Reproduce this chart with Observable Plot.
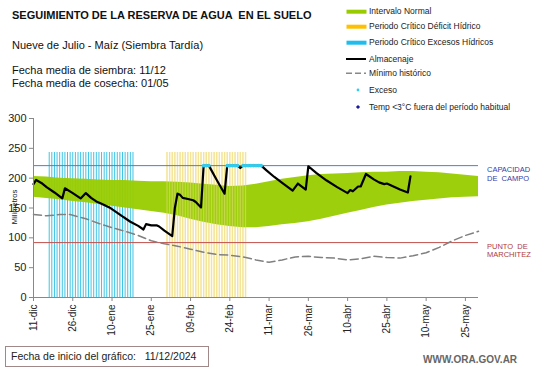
<!DOCTYPE html>
<html><head><meta charset="utf-8">
<script src="https://cdn.jsdelivr.net/npm/d3@7"></script>
<script src="https://cdn.jsdelivr.net/npm/@observablehq/plot@0.6"></script>
<style>
body{margin:0;background:#fff;font-family:"Liberation Sans",Arial,sans-serif;}
#wrap{position:relative;width:541px;height:368px;overflow:hidden;background:#fff;}
#wrap svg{position:absolute;left:0;top:0;}
.t{position:absolute;white-space:nowrap;line-height:1;color:#111;}
.lg{position:absolute;white-space:nowrap;line-height:1;font-size:8.5px;color:#222;}
</style></head><body><div id="wrap"></div>
<script>
// ---- data (days counted from 11/12/2024) ----
const startDate = "2024-12-11";
const xTickDays = [0,15,30,45,60,75,90,105,120,135,150,165];
const xTickLabels = ["11-dic","26-dic","10-ene","25-ene","09-feb","24-feb","11-mar","26-mar","10-abr","25-abr","10-may","25-may"];
const yTicks = [0,50,100,150,200,250,300];

const bandDays  = [0,5,10,15,20,25,30,35,40,45,50,55,60,65,70,75,80,85,90,95,100,105,110,115,120,125,130,135,140,145,150,155,160,165,170];
const bandUpper = [203,202,200,199,198,197,196,196,195,194,194,193,192,190,188,186,187,190,194,198,201,204,206,207,208,209,210,210,211,211,210,209,207,205,203];
const bandLower = [168,166,164,161,159,156,153,150,147,144,141,137,131,126,122,119,117,117,119,122,124,127,131,136,141,146,151,155,158,161,163,165,167,168,169];

const minDays   = [0,5,10,14,20,25,30,35,40,45,50,55,60,65,70,75,80,85,90,95,100,105,110,115,120,125,130,135,140,145,150,155,160,165,170];
const minValues = [139,137,139,139,132,124,117,111,104,95,90,86,81,76,72,71,68,63,59,63,68,69,67,66,63,65,69,67,66,70,75,84,95,104,111];

const almDays   = [0,1,3,5,8,11,12,15,18,20,22,24,26,29,33,37,40,42,43,45,47,48,50,53,54,55,56,57,59,61,62,64,65,67,70,73,74,78,79,80,87,89,92,95,99,101,104,105,108,112,116,120,121,122,124,125,127,130,132,134,135,140,143,144];
const almValues = [190,197,192,185,176,166,183,175,166,175,167,161,157,151,139,127,120,114,123,121,121,119,112,103,150,174,172,167,165,163,160,151,221,221,197,174,221,221,217,221,221,213,202,192,179,191,181,220,209,196,185,175,180,178,186,186,207,198,193,190,191,181,176,203];

const excesoDays  = [65,66,67,74,75,76,77,78,80,81,82,83,84,85,86,87];
const excesoValue = 221;

const periodoExcesos = [6,38];   // Periodo Crítico Excesos Hídricos (días)
const periodoDeficit = [51,81];  // Periodo Crítico Déficit Hídrico (días)
const barTop = 243;
const capacidadCampo = 221;
const puntoMarchitez = 92;

// ---- helpers ----
const t0 = new Date(startDate + "T00:00:00Z").getTime();
const toDate = d => new Date(t0 + d*864e5);
const band = bandDays.map((d,i)=>({x:toDate(d), lo:bandLower[i], hi:bandUpper[i]}));
const minimo = minDays.map((d,i)=>({x:toDate(d), y:minValues[i]}));
const alm = almDays.map((d,i)=>({x:toDate(d), y:almValues[i]}));
const exc = excesoDays.map(d=>({x:toDate(d), y:excesoValue}));
const range = ([a,b]) => d3.range(a,b+1).map(toDate);

const plot = Plot.plot({
  width:541, height:368,
  marginLeft:33, marginRight:63, marginTop:118, marginBottom:71,
  style:{fontFamily:"'Liberation Sans', Arial, sans-serif", color:"#222", background:"transparent"},
  x:{type:"utc", domain:[toDate(0), toDate(170)]},
  y:{domain:[0,300]},
  marks:[
    Plot.ruleX(range(periodoExcesos), {x:d=>d, y1:0, y2:barTop, stroke:"#3ec4e4", strokeWidth:1}),
    Plot.ruleX(range(periodoDeficit), {x:d=>d, y1:0, y2:barTop, stroke:"#f4e596", strokeWidth:1.4}),
    Plot.areaY(band, {x:"x", y1:"lo", y2:"hi", fill:"#99cc00", fillOpacity:0.95}),
    Plot.ruleX(range(periodoDeficit), {x:d=>d, y1:0, y2:barTop, stroke:"#f4e596", strokeWidth:1.2, strokeOpacity:0.45}),
    Plot.ruleY([capacidadCampo], {stroke:"#4f7ec4", strokeWidth:1}),
    Plot.ruleY([puntoMarchitez], {stroke:"#c0504d", strokeWidth:1}),
    Plot.line(minimo, {x:"x", y:"y", stroke:"#808080", strokeWidth:1.5, strokeDasharray:"8,4"}),
    Plot.line(alm, {x:"x", y:"y", stroke:"#000", strokeWidth:2.2}),
    Plot.dot(exc, {x:"x", y:"y", r:1.8, fill:"#33ccee", stroke:"none"}),
    Plot.ruleX([toDate(0)], {y1:0, y2:300, stroke:"#888"}),
    Plot.ruleY([0], {stroke:"#888"}),
    Plot.axisY({ticks:yTicks, tickSize:4, tickPadding:3, fontSize:11, label:null, stroke:"#888"}),
    Plot.axisX(xTickDays.map(toDate), {tickSize:4, tickRotate:-90, tickPadding:3, fontSize:10, label:null,
      tickFormat:(d,i)=>xTickLabels[i], stroke:"#888"})
  ]
});
const wrap = document.getElementById("wrap");
wrap.appendChild(plot);

function txt(cls, s, left, top, extra){ const e=document.createElement("div"); e.className=cls; e.textContent=s; e.style.left=left+"px"; e.style.top=top+"px"; if(extra) Object.assign(e.style, extra); wrap.appendChild(e); return e; }

txt("t","SEGUIMIENTO DE LA RESERVA DE AGUA  EN EL SUELO",12,9.5,{fontWeight:"bold",fontSize:"11px",whiteSpace:"pre"});
txt("t","Nueve de Julio - Maíz (Siembra Tardía)",12,39.5,{fontSize:"11px"});
txt("t","Fecha media de siembra: 11/12",12,65,{fontSize:"11px"});
txt("t","Fecha media de cosecha: 01/05",12,77.5,{fontSize:"11px"});
txt("t","Milímetros",15,207,{fontSize:"7.5px",transform:"translate(-50%,-50%) rotate(-90deg)"});
txt("t","CAPACIDAD",487,166,{fontSize:"7.5px",color:"#3a3aa8"});
txt("t","DE  CAMPO",487,175,{fontSize:"7.5px",color:"#3a3aa8",whiteSpace:"pre"});
txt("t","PUNTO  DE",487,242.5,{fontSize:"7.5px",color:"#b03a3a",whiteSpace:"pre"});
txt("t","MARCHITEZ",487,251,{fontSize:"7.5px",color:"#b03a3a"});
txt("t","Fecha de inicio del gráfico:   11/12/2024",5,346,{fontSize:"10.5px",whiteSpace:"pre",border:"1px solid #a08888",padding:"4px 12px 4px 5px",color:"#222"});
txt("t","WWW.ORA.GOV.AR",423,355,{fontSize:"10px",color:"#666",fontWeight:"bold"});

// legend
const legend = [
  {label:"Intervalo Normal", y:11.7, kind:"bar", color:"#99cc00"},
  {label:"Periodo Crítico Déficit Hídrico", y:26.7, kind:"bar", color:"#ffc000"},
  {label:"Periodo Crítico Excesos Hídricos", y:42.7, kind:"bar", color:"#1fbcee"},
  {label:"Almacenaje", y:59, kind:"line", color:"#000"},
  {label:"Mínimo histórico", y:73.3, kind:"dash", color:"#888"},
  {label:"Exceso", y:90, kind:"dot", color:"#33ccee"},
  {label:"Temp <3°C fuera del período habitual", y:107, kind:"diamond", color:"#1a1a9a"}
];
const ns="http://www.w3.org/2000/svg";
const lsvg=document.createElementNS(ns,"svg"); lsvg.setAttribute("width",541); lsvg.setAttribute("height",120);
lsvg.style.position="absolute"; lsvg.style.left="0"; lsvg.style.top="0";
wrap.appendChild(lsvg);
function el(tag,attrs){const e=document.createElementNS(ns,tag); for(const k in attrs) e.setAttribute(k,attrs[k]); lsvg.appendChild(e); return e;}
for(const it of legend){
  if(it.kind==="bar") el("rect",{x:346.5,y:it.y-2,width:20,height:4,fill:it.color});
  if(it.kind==="line") el("line",{x1:346,x2:366,y1:it.y,y2:it.y,stroke:it.color,"stroke-width":2});
  if(it.kind==="dash") el("line",{x1:346,x2:366,y1:it.y,y2:it.y,stroke:it.color,"stroke-width":1.5,"stroke-dasharray":"6,3"});
  if(it.kind==="dot") el("circle",{cx:358,cy:it.y,r:1.4,fill:it.color});
  if(it.kind==="diamond") el("rect",{x:356.5,y:it.y-1.5,width:3,height:3,fill:it.color,transform:`rotate(45 358 ${it.y})`});
  txt("lg",it.label,369,it.y-4.5);
}
</script></body></html>
